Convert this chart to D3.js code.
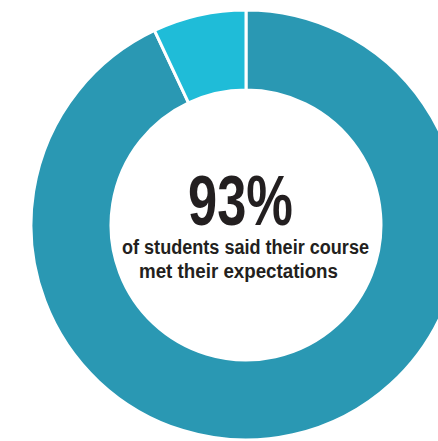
<!DOCTYPE html>
<html lang="en">
<head>
    <meta charset="UTF-8">
    <title>Course expectations</title>
    <script src="https://cdn.jsdelivr.net/npm/d3@7"></script>
    <style>
        body { margin: 0; background: #fff; }
    </style>
</head>
<body>
    <script>
        // share of students
        const categories = ['met expectations', 'did not'];
        const values = [93, 7];
        const colors = ['#2a98b3', '#1fbcd8'];
        const bigLabel = '93%';
        const subLines = ['of students said their course', 'met their expectations'];

        const width = 438, height = 441;
        const cx = 246, cy = 225;
        const outerR = 215, innerR = 135;

        const svg = d3.select('body').append('svg')
            .attr('width', width)
            .attr('height', height);

        const pie = d3.pie().sort(null).value(d => d);
        const arc = d3.arc().innerRadius(innerR).outerRadius(outerR);
        const color = d3.scaleOrdinal().domain(categories).range(colors);

        const g = svg.append('g').attr('transform', `translate(${cx},${cy})`);

        g.selectAll('path')
            .data(pie(values))
            .enter()
            .append('path')
            .attr('d', arc)
            .attr('fill', (d, i) => color(categories[i]))
            .attr('stroke', '#fff')
            .attr('stroke-width', 3);

        // center text, squeezed to look like a condensed face
        g.append('text')
            .attr('x', -5.5)
            .attr('y', 0)
            .attr('text-anchor', 'middle')
            .attr('font-family', '"Liberation Sans", Arial, sans-serif')
            .attr('font-weight', 'bold')
            .attr('font-size', 70)
            .attr('textLength', 105)
            .attr('lengthAdjust', 'spacingAndGlyphs')
            .attr('fill', '#231f20')
            .text(bigLabel);

        const subX = [-0.5, -7.5];
        const subW = [247, 199];
        g.selectAll('text.sub')
            .data(subLines)
            .enter()
            .append('text')
            .attr('class', 'sub')
            .attr('x', (d, i) => subX[i])
            .attr('y', (d, i) => 29 + i * 24)
            .attr('text-anchor', 'middle')
            .attr('font-family', '"Liberation Sans", Arial, sans-serif')
            .attr('font-weight', 'bold')
            .attr('font-size', 20)
            .attr('textLength', (d, i) => subW[i])
            .attr('lengthAdjust', 'spacingAndGlyphs')
            .attr('fill', '#231f20')
            .text(d => d);
    </script>
</body>
</html>
